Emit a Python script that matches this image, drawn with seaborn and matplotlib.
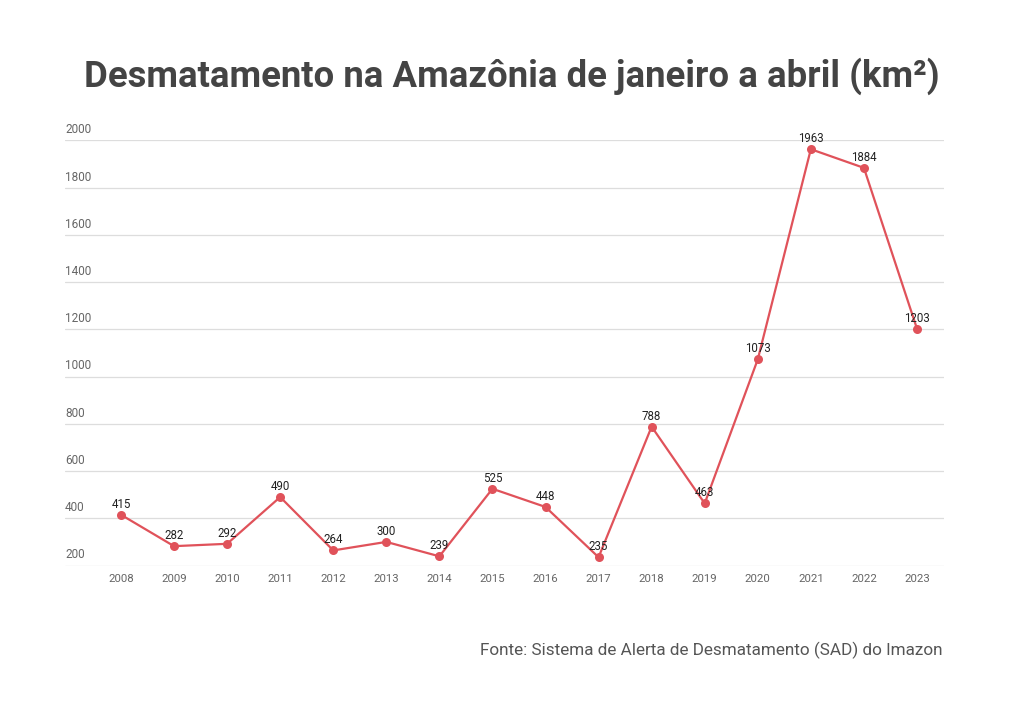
import pandas as pd
import seaborn as sns
import matplotlib.pyplot as plt

# Data
years = list(range(2008, 2024))
area_km2 = [415, 282, 292, 490, 264, 300, 239, 525, 448, 235, 788, 463, 1073, 1963, 1884, 1203]
y_ticks = [200, 400, 600, 800, 1000, 1200, 1400, 1600, 1800, 2000]

df = pd.DataFrame({"Ano": years, "Area": area_km2})

sns.set_theme(style="white")
plt.rcParams["font.family"] = ["Roboto", "DejaVu Sans"]

line_color = "#e0525a"

fig = plt.figure(figsize=(10.24, 7.02), dpi=100)
ax = fig.add_axes([65 / 1024, 136 / 702, (943.5 - 65) / 1024, 426 / 702])

sns.lineplot(data=df, x="Ano", y="Area", color=line_color, linewidth=1.6,
             marker="o", markersize=6.5, markeredgewidth=0, ax=ax)

# Value labels above each point
for x, v in zip(years, area_km2):
    ax.annotate(str(v), (x, v), xytext=(0, 3), textcoords="offset points",
                ha="center", va="bottom", fontsize=8.3, color="#222222")

ax.set_xlim(2008 - 1.055, 2023.5)
ax.set_ylim(198, 2002)
ax.set_xticks(years)
ax.set_xticklabels([str(y) for y in years], fontsize=8.2, color="#666666")
ax.set_yticks(y_ticks)
ax.set_yticklabels([])
ax.tick_params(axis="both", length=0, pad=6)
ax.grid(axis="y", color="#dddddd", linewidth=0.9)
ax.set_axisbelow(True)
for spine in ax.spines.values():
    spine.set_visible(False)
ax.set_xlabel("")
ax.set_ylabel("")

# Y labels sit just above their gridlines, left aligned
for t in y_ticks:
    ax.annotate(str(t), (2008 - 1.055, t), xytext=(0, 3), textcoords="offset points",
                ha="left", va="bottom", fontsize=8.5, color="#666666")

fig.text(0.5, 1 - 76 / 702, "Desmatamento na Amazônia de janeiro a abril (km²)",
         ha="center", va="center", fontsize=26.3, fontweight="bold", color="#444444")
fig.text(942 / 1024, 1 - 650 / 702, "Fonte: Sistema de Alerta de Desmatamento (SAD) do Imazon",
         ha="right", va="center", fontsize=12.3, color="#555555")

fig.savefig("out.png", dpi=100)
